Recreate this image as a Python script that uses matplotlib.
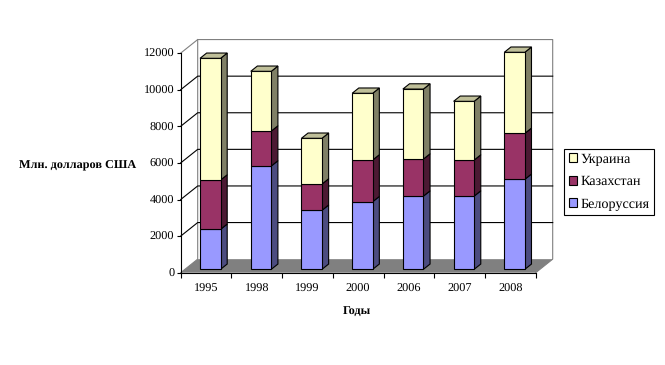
import matplotlib
matplotlib.use('Agg')
import matplotlib.pyplot as plt
from matplotlib.patches import Patch

plt.rcParams['font.family'] = ['Liberation Serif', 'DejaVu Serif']
plt.rcParams['text.hinting'] = 'none'

years = ['1995', '1998', '1999', '2000', '2006', '2007', '2008']
belarus = [2185, 5645, 3225, 3695, 4000, 4000, 4920]
kazakhstan = [2695, 1910, 1435, 2280, 2025, 1970, 2510]
ukraine = [6650, 3265, 2500, 3645, 3825, 3210, 4430]
y_ticks = [0, 2000, 4000, 6000, 8000, 10000, 12000]

series_names = ['Белоруссия', 'Казахстан', 'Украина']
front_cols = ['#9999FF', '#993366', '#FFFFCC']
side_cols = ['#4C4C80', '#4C1933', '#808066']
top_col = '#BFBF99'

# fake 3d depth, in data units
DX = 0.335
DY = 740
Z0, Z1 = 0.25, 0.64
W = 0.405
LW = 0.8

fig = plt.figure(figsize=(6.65, 3.65), dpi=100)
ax = fig.add_axes([180.7 / 665, 1 - 272.7 / 365, 355 / 665, 219.6 / 365])
ax.set_xlim(0, 7)
ax.set_ylim(0, 12000)
ax.patch.set_visible(False)
for s in ['top', 'right']:
    ax.spines[s].set_visible(False)
ax.spines['left'].set_linewidth(LW)
ax.spines['bottom'].set_linewidth(LW)

# walls and floor
ax.plot([0, DX, DX, 7 + DX, 7 + DX, 7],
        [0, DY, 12000 + DY, 12000 + DY, DY, 0],
        color='#808080', lw=LW, clip_on=False, zorder=1)
ax.plot([0, DX], [12000, 12000 + DY], color='#808080', lw=LW, clip_on=False, zorder=1)
for t in y_ticks[1:-1]:
    ax.plot([0, DX, 7 + DX], [t, t + DY, t + DY], color='black', lw=LW,
            clip_on=False, zorder=1)
ax.fill([0, 7, 7 + DX, DX], [0, 0, DY, DY], color='#808080', lw=0,
        clip_on=False, zorder=1)

# bars
z = 2
for i, year in enumerate(years):
    bottom = 0
    for vals, fc, sc in zip([belarus, kazakhstan, ukraine], front_cols, side_cols):
        h = vals[i]
        x0 = i + 0.5 - W / 2 + Z0 * DX
        x1 = x0 + W
        y0 = bottom + Z0 * DY
        y1 = y0 + h
        d_x = (Z1 - Z0) * DX
        d_y = (Z1 - Z0) * DY
        ax.fill([x1, x1 + d_x, x1 + d_x, x1], [y0, y0 + d_y, y1 + d_y, y1],
                facecolor=sc, edgecolor='black', lw=LW, clip_on=False, zorder=z)
        ax.bar(x0, h, W, bottom=y0, align='edge', color=fc, edgecolor='black',
               lw=LW, clip_on=False, zorder=z + 0.5)
        bottom += h
        z += 1
    ax.fill([x0, x1, x1 + d_x, x0 + d_x], [y1, y1, y1 + d_y, y1 + d_y],
            facecolor=top_col, edgecolor='black', lw=LW, clip_on=False, zorder=z)
    z += 1

# keep the axis lines over the floor
for s in ax.spines.values():
    s.set_zorder(z + 1)

ax.set_yticks(y_ticks)
ax.set_yticklabels([str(t) for t in y_ticks], fontsize=8.8)
ax.set_xticks(range(8))
ax.set_xticklabels([])
ax.set_xticks([i + 0.5 for i in range(7)], minor=True)
ax.set_xticklabels(years, minor=True, fontsize=8.8)
ax.tick_params(axis='y', length=3, width=LW, pad=1.5)
ax.tick_params(axis='x', which='major', length=3.5, width=LW)
ax.tick_params(axis='x', which='minor', length=0, pad=7.5)

fig.text(78 / 665, 1 - 166 / 365, 'Млн. долларов США', fontsize=8.8, fontweight='bold',
         ha='center', va='center')
fig.text(357 / 665, 1 - 311 / 365, 'Годы', fontsize=8.8, fontweight='bold',
         ha='center', va='center')

handles = [Patch(facecolor=front_cols[k], edgecolor='black', lw=LW, label=series_names[k])
           for k in [2, 1, 0]]
leg = fig.legend(handles=handles, loc='upper left',
                 bbox_to_anchor=(564.3 / 665, 1 - 149 / 365), fontsize=10.2,
                 fancybox=False, edgecolor='black', framealpha=1, borderaxespad=0,
                 handlelength=0.6, handleheight=0.6, handletextpad=0.25,
                 labelspacing=0.68, borderpad=0.3)
leg.get_frame().set_linewidth(LW)

fig.savefig('out.png', dpi=100)
